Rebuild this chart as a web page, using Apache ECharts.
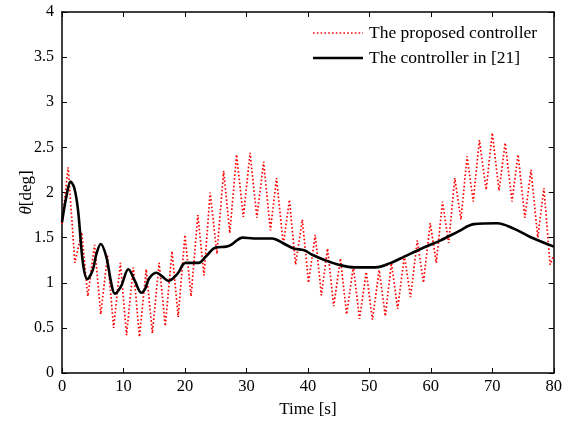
<!DOCTYPE html>
<html>
<head>
<meta charset="utf-8">
<script src="https://cdn.jsdelivr.net/npm/echarts@6/dist/echarts.min.js"></script>
<style>html,body{margin:0;padding:0;background:#fff;}#c{width:565px;height:425px;}</style>
</head>
<body>
<div id="c"></div>
<script>
// Proposed controller (red dotted): time / value at each turning point
const redT = [0,1.0,2.1,3.2,4.2,5.3,6.3,7.4,8.4,9.5,10.5,11.6,12.6,13.7,14.7,15.8,16.8,17.9,18.9,20.0,21.0,22.1,23.1,24.1,25.2,26.3,27.3,28.4,29.5,30.6,31.7,32.8,33.9,34.9,36.0,37.0,38.0,39.1,40.1,41.2,42.2,43.2,44.2,45.3,46.3,47.4,48.4,49.5,50.5,51.6,52.6,53.6,54.6,55.7,56.7,57.8,58.8,59.9,60.9,61.9,62.9,63.9,64.9,65.9,66.9,67.9,69.0,70.0,71.1,72.1,73.2,74.2,75.3,76.3,77.4,78.4,79.4,80.0];
const redV = [1.65,2.28,1.22,1.56,0.85,1.42,0.65,1.30,0.50,1.22,0.42,1.17,0.40,1.15,0.44,1.22,0.52,1.35,0.62,1.53,0.85,1.75,1.08,2.00,1.32,2.24,1.55,2.42,1.73,2.44,1.72,2.34,1.58,2.16,1.42,1.92,1.20,1.70,1.00,1.53,0.86,1.38,0.74,1.27,0.65,1.18,0.60,1.12,0.59,1.14,0.63,1.22,0.71,1.30,0.84,1.47,1.00,1.66,1.22,1.90,1.44,2.16,1.70,2.40,1.90,2.58,2.03,2.66,2.02,2.55,1.90,2.42,1.72,2.25,1.50,2.05,1.20,1.30];
// Controller in [21] (black solid)
const blackT = [0,0.7,1.4,2.0,2.6,3.4,4.1,5.0,5.6,6.3,7.2,8.0,8.6,9.6,10.8,11.8,12.9,13.5,14.2,15.4,16.3,17.3,18.8,20.1,22.2,23.4,25.0,26.7,27.5,29.4,31.2,34.2,35.9,37.7,39.4,40.7,42.8,45.0,47.6,51.0,53.5,55.7,58.5,61.6,64.5,67.0,70.8,73.5,76.1,80.0];
const blackV = [1.67,1.95,2.12,2.05,1.81,1.22,1.04,1.14,1.32,1.43,1.29,1.00,0.88,0.96,1.15,1.03,0.89,0.93,1.05,1.11,1.07,1.02,1.10,1.22,1.22,1.29,1.39,1.40,1.42,1.50,1.49,1.49,1.44,1.38,1.36,1.31,1.25,1.20,1.17,1.17,1.22,1.29,1.38,1.47,1.57,1.65,1.66,1.60,1.51,1.40];
const xTicks = [0,10,20,30,40,50,60,70,80];
const yTicks = [0,0.5,1,1.5,2,2.5,3,3.5,4];
const seriesNames = ['The proposed controller','The controller in [21]'];

const FONT = '"Times New Roman","Liberation Serif",serif';
const RED_DASH = [1.6,2.2];
const chart = echarts.init(document.getElementById('c'), null, {renderer:'canvas'});
const axisCommon = () => ({
  axisLine:{show:true,onZero:false,lineStyle:{color:'#000',width:1.5}},
  axisTick:{show:true,inside:true,length:5,lineStyle:{color:'#000',width:1}},
  splitLine:{show:false}
});
chart.setOption({
  animation:false,
  backgroundColor:'#fff',
  grid:{left:62,right:8,top:12,bottom:52,containLabel:false},
  legend:{show:false},
  graphic:[
    {type:'line',shape:{x1:313,y1:33,x2:363,y2:33},style:{stroke:'#ff0000',lineWidth:1.6,lineDash:RED_DASH}},
    {type:'text',x:369,y:33,style:{text:seriesNames[0],font:'17.5px '+FONT,fill:'#000',verticalAlign:'middle'}},
    {type:'line',shape:{x1:313,y1:58,x2:363,y2:58},style:{stroke:'#000',lineWidth:2.5}},
    {type:'text',x:369,y:58,style:{text:seriesNames[1],font:'17.5px '+FONT,fill:'#000',verticalAlign:'middle'}}
  ],
  xAxis:[
    Object.assign({type:'value',min:xTicks[0],max:xTicks[xTicks.length-1],interval:10,
      name:'Time [s]',nameLocation:'middle',nameGap:28,
      nameTextStyle:{fontFamily:FONT,fontSize:17,color:'#000'},
      axisLabel:{fontFamily:FONT,fontSize:16.5,color:'#000',margin:5}},axisCommon()),
    Object.assign({type:'value',position:'top',min:0,max:80,interval:10,axisLabel:{show:false}},axisCommon())
  ],
  yAxis:[
    Object.assign({type:'value',min:yTicks[0],max:yTicks[yTicks.length-1],interval:0.5,
      name:'{i|θ}[deg]',nameLocation:'middle',nameGap:27,nameRotate:90,nameMoveOverlap:false,
      nameTextStyle:{fontFamily:FONT,fontSize:17,color:'#000',rich:{i:{fontFamily:FONT,fontStyle:'italic',fontSize:17,color:'#000'}}},
      axisLabel:{fontFamily:FONT,fontSize:16,color:'#000',margin:8}},axisCommon()),
    Object.assign({type:'value',position:'right',min:0,max:4,interval:0.5,axisLabel:{show:false}},axisCommon())
  ],
  series:[
    {name:seriesNames[0],type:'line',symbol:'none',
      data:redT.map((t,i)=>[t,redV[i]]),
      lineStyle:{color:'#ff0000',width:1.7,type:RED_DASH},itemStyle:{color:'#ff0000'},z:2},
    {name:seriesNames[1],type:'line',symbol:'none',smooth:0.35,
      data:blackT.map((t,i)=>[t,blackV[i]]),
      lineStyle:{color:'#000',width:2.6,type:'solid'},itemStyle:{color:'#000'},z:3}
  ]
});
</script>
</body>
</html>
